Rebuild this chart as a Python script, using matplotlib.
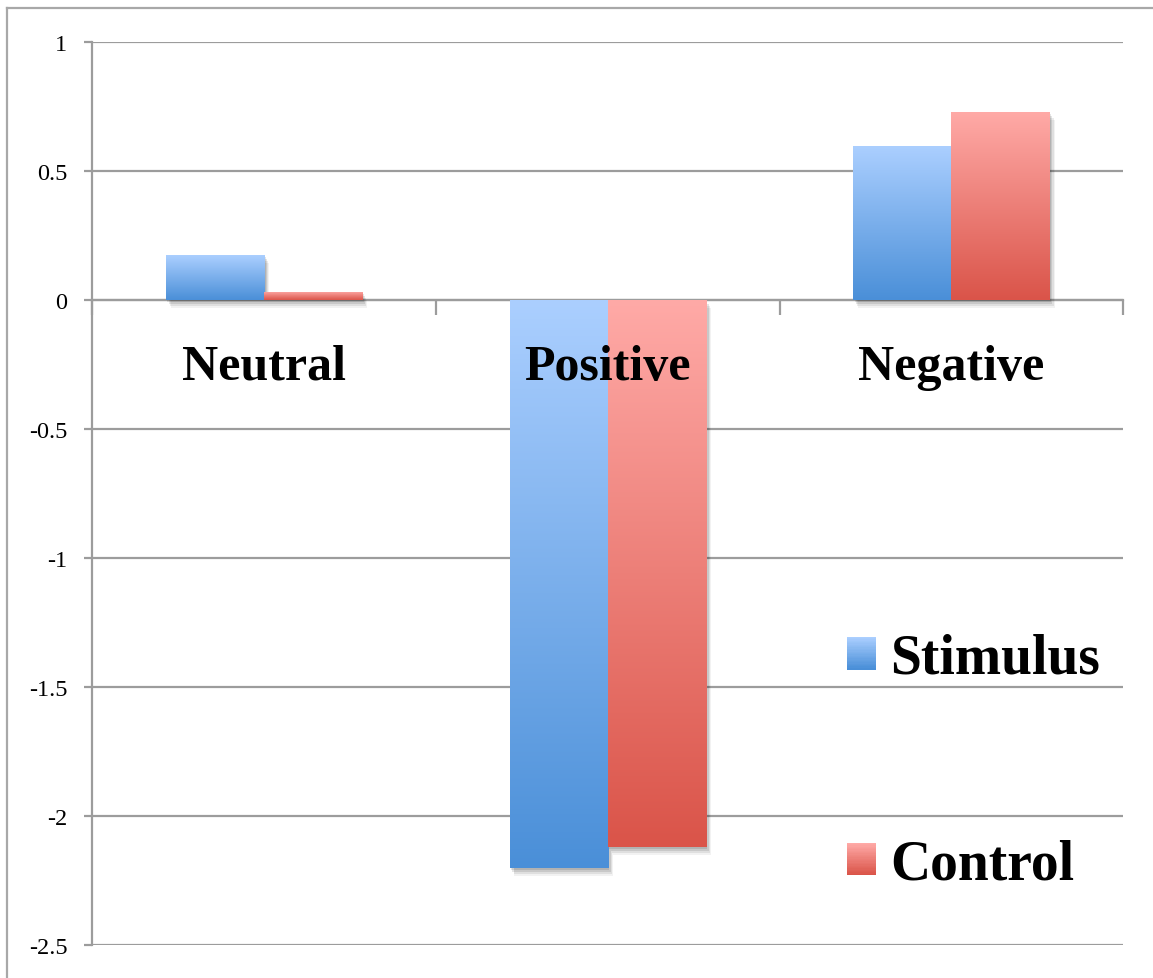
import numpy as np
import matplotlib
matplotlib.use("Agg")
import matplotlib.pyplot as plt
from matplotlib.patches import Rectangle
from matplotlib.lines import Line2D
from matplotlib.legend_handler import HandlerBase
import matplotlib.patheffects as pe
from matplotlib.colors import LinearSegmentedColormap

# Data
categories = ["Neutral", "Positive", "Negative"]
stimulus = [0.174, -2.20, 0.594]
control = [0.031, -2.12, 0.727]
series_names = ["Stimulus", "Control"]
y_ticks = [-2.5, -2.0, -1.5, -1.0, -0.5, 0.0, 0.5, 1.0]
y_tick_labels = ["-2.5", "-2", "-1.5", "-1", "-0.5", "0", "0.5", "1"]

# Gradient colours (top -> bottom)
blue_top, blue_bottom = "#abcfff", "#4a8fd8"
red_top, red_bottom = "#ffaaa7", "#da5449"
grid_col = "#9c9c9c"

plt.rcParams["axes.unicode_minus"] = False
plt.rcParams["font.family"] = ["Liberation Serif", "DejaVu Serif"]
plt.rcParams["ytick.labelsize"] = 17.5

W, H, DPI = 1153, 979, 100
fig = plt.figure(figsize=(W / DPI, H / DPI), dpi=DPI)
fig.patch.set_facecolor("white")

ax = fig.add_axes([92.3 / W, 1 - 946 / H, (1123.3 - 92.3) / W, (946 - 42.7) / H])
ax.set_facecolor("none")
ax.set_xlim(-0.5, len(categories) - 0.5)
ax.set_ylim(-2.5, 1.0)

# Grid + axes styling
ax.set_yticks(y_ticks)
ax.set_yticklabels(y_tick_labels)
ax.yaxis.grid(True, color=grid_col, linewidth=1.6)
ax.set_axisbelow(True)
ax.tick_params(axis="y", direction="out", length=6, width=1.6, color=grid_col, pad=12)
for s in ["top", "right"]:
    ax.spines[s].set_visible(False)
ax.spines["left"].set_color(grid_col)
ax.spines["left"].set_linewidth(1.6)
ax.spines["bottom"].set_position(("data", 0))
ax.spines["bottom"].set_color(grid_col)
ax.spines["bottom"].set_linewidth(1.6)
ax.set_xticks(np.arange(len(categories) + 1) - 0.5)
ax.set_xticklabels([])
ax.tick_params(axis="x", direction="out", length=10.5, width=1.6, color=grid_col)

width = 1 / 3.5
x = np.arange(len(categories))

shadow = [
    pe.SimplePatchShadow(offset=(1.0, -1.5), shadow_rgbFace="#000000", alpha=0.10),
    pe.SimplePatchShadow(offset=(2.0, -3.0), shadow_rgbFace="#000000", alpha=0.10),
    pe.SimplePatchShadow(offset=(3.0, -4.5), shadow_rgbFace="#000000", alpha=0.08),
    pe.SimplePatchShadow(offset=(3.5, -6.0), shadow_rgbFace="#000000", alpha=0.05),
    pe.Normal(),
]


def gradient_bars(xpos, vals, top, bottom, z):
    cmap = LinearSegmentedColormap.from_list("g", [top, bottom])
    grad = np.linspace(0, 1, 256).reshape(-1, 1)
    bars = ax.bar(xpos, vals, width, color=bottom, linewidth=0, zorder=z)
    for b in bars:
        b.set_path_effects(shadow)
        x0, y0 = b.get_x(), b.get_y()
        w, h = b.get_width(), b.get_height()
        ylo, yhi = min(y0, y0 + h), max(y0, y0 + h)
        im = ax.imshow(grad, cmap=cmap, aspect="auto", origin="upper",
                       extent=[x0, x0 + w, ylo, yhi], zorder=z + 0.1,
                       interpolation="bicubic")
        im.set_clip_path(b)
    return bars


gradient_bars(x - width / 2, stimulus, blue_top, blue_bottom, 3)
gradient_bars(x + width / 2, control, red_top, red_bottom, 3)
ax.set_xlim(-0.5, len(categories) - 0.5)
ax.set_ylim(-2.5, 1.0)

# Category labels under the zero line
for i, c in enumerate(categories):
    ax.annotate(c, xy=(i, 0), xytext=(0, -57), textcoords="offset points",
                ha="center", va="baseline", fontweight="bold", fontsize=36,
                zorder=10)


# Legend with gradient swatches
class GradientHandler(HandlerBase):
    def __init__(self, top, bottom):
        super().__init__()
        self.top, self.bottom = top, bottom

    def create_artists(self, legend, orig_handle, xdescent, ydescent,
                       width, height, fontsize, trans):
        cmap = LinearSegmentedColormap.from_list("g", [self.top, self.bottom])
        n = 24
        arts = []
        for k in range(n):
            r = Rectangle((-xdescent, -ydescent + height * (1 - (k + 1) / n)),
                          width, height / n + 0.3, facecolor=cmap(k / (n - 1)),
                          edgecolor="none", transform=trans)
            arts.append(r)
        return arts


h1 = Rectangle((0, 0), 1, 1)
h2 = Rectangle((0, 0), 1, 1)
leg = ax.legend([h1, h2], series_names,
                handler_map={h1: GradientHandler(blue_top, blue_bottom),
                             h2: GradientHandler(red_top, red_bottom)},
                loc="upper left", bbox_to_anchor=(847 / W, 1 - 634 / H),
                bbox_transform=fig.transFigure, frameon=False, borderpad=0,
                prop={"weight": "bold", "size": 40},
                handlelength=0.52, handleheight=0.52, handletextpad=0.26,
                labelspacing=2.77, borderaxespad=0)

# Outer chart frame
fig.add_artist(Line2D([6.5 / W, 6.5 / W], [0, 1 - 8.5 / H], color="#a8a8a8",
                      linewidth=1.6, transform=fig.transFigure))
fig.add_artist(Line2D([6.5 / W, 1.0], [1 - 8.5 / H, 1 - 8.5 / H], color="#a8a8a8",
                      linewidth=1.6, transform=fig.transFigure))

fig.savefig("out.png", dpi=DPI, facecolor="white")
